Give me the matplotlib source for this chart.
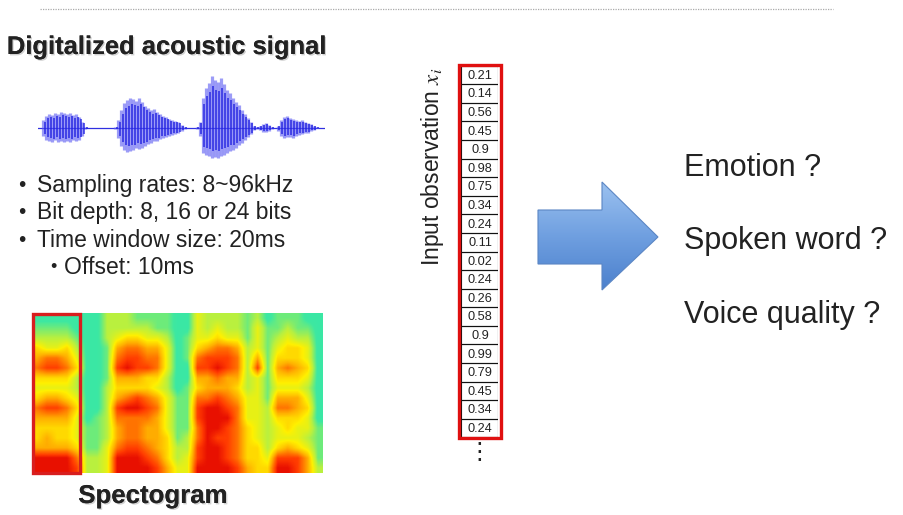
import numpy as np
import matplotlib
matplotlib.use("Agg")
import matplotlib.pyplot as plt
from matplotlib.colors import LinearSegmentedColormap
from matplotlib.patches import Rectangle, Polygon
import matplotlib.patheffects as pe

plt.rcParams['font.family'] = ['Liberation Sans', 'DejaVu Sans']
plt.rcParams['mathtext.fontset'] = 'stix'

W, H = 904, 515
TXT = '#222222'

# ---- data ----
bullets = ['Sampling rates: 8~96kHz', 'Bit depth: 8, 16 or 24 bits', 'Time window size: 20ms']
sub_bullet = 'Offset: 10ms'
questions = ['Emotion ?', 'Spoken word ?', 'Voice quality ?']

# waveform envelope (upper / lower amplitude per sample)
wave_top = [0, 8, 12, 14, 13, 15, 14, 16, 15, 14, 15, 13, 14, 11, 6, 1,
            0, 0, 0, 0, 0, 0, 0, 0, 0, 1,
            8, 18, 25, 28, 30, 29, 27, 30, 26, 22, 20, 18, 19, 16, 14, 12, 11, 9, 8, 7, 6, 3, 1,
            0, 0, 0, 1,
            6, 30, 40, 45, 52, 48, 46, 50, 44, 38, 35, 30, 26, 23, 18, 14, 10, 6, 2,
            1, 2, 4, 5, 3, 1, 0,
            2, 8, 11, 12, 10, 9, 8, 7, 8, 6, 5, 4, 2, 1, 0, 0]
wave_bot = [0, 8, 12, 13, 14, 12, 14, 13, 14, 13, 14, 12, 13, 12, 8, 1,
            0, 0, 0, 0, 0, 0, 0, 0, 0, 1,
            10, 18, 22, 24, 23, 22, 20, 21, 20, 18, 16, 15, 13, 13, 11, 10, 9, 8, 7, 6, 5, 3, 1,
            0, 0, 0, 1,
            8, 25, 27, 28, 30, 29, 30, 28, 27, 25, 23, 22, 20, 17, 15, 12, 9, 6, 2,
            1, 2, 4, 4, 3, 1, 0,
            3, 8, 10, 9, 9, 10, 8, 7, 6, 5, 5, 3, 2, 0, 0, 0]

# spectrogram intensity (0 = quiet, 9 = loud), rows = high -> low frequency
spec_rows = [
    "11111113332222114333323122211",
    "22221113333322114343324223221",
    "33332113455443124454424234331",
    "54453112677664125677634245541",
    "67764112788774127888736255541",
    "78875112898874118898738267651",
    "55553112666553116676634255541",
    "44443113555543125666534244431",
    "56654113678764227787644266641",
    "78875113899874228998744377651",
    "66664123777764228999744355541",
    "55554223677664227998754345442",
    "56554223677665237988754344432",
    "66665224788765338998755356542",
    "99997334999875348998755488862",
    "99998334999986449999865599863",
]

obs_values = [0.21, 0.14, 0.56, 0.45, 0.9, 0.98, 0.75, 0.34, 0.24, 0.11,
              0.02, 0.24, 0.26, 0.58, 0.9, 0.99, 0.79, 0.45, 0.34, 0.24]

fig = plt.figure(figsize=(W / 100, H / 100), dpi=100)


def px_axes(x0, y0, x1, y1):
    ax = fig.add_axes([x0 / W, 1 - y1 / H, (x1 - x0) / W, (y1 - y0) / H])
    ax.set_axis_off()
    return ax


# overlay for the slide texts
base = px_axes(0, 0, W, H)
base.set_xlim(0, W)
base.set_ylim(H, 0)

base.plot([40, 833], [9, 9], color='#aaaaaa', lw=0.9, ls=(0, (1, 1)))

shadow = [pe.withSimplePatchShadow(offset=(1.0, -1.0), shadow_rgbFace='#999999', alpha=0.45), pe.Normal()]
base.text(166, 54, 'Digitalized acoustic signal', fontsize=18.4, fontweight='bold',
          color=TXT, ha='center', va='baseline', path_effects=shadow)
base.text(153, 503, 'Spectogram', fontsize=18.6, fontweight='bold',
          color=TXT, ha='center', va='baseline', path_effects=shadow)

for k, line in enumerate(bullets):
    yb = 192 + 27.5 * k
    base.text(21.5, yb - 6.5, '•', fontsize=15, color=TXT, ha='center', va='center')
    base.text(37, yb, line, fontsize=16.5, color=TXT, va='baseline')
base.text(53.5, 267.5, '•', fontsize=13, color=TXT, ha='center', va='center')
base.text(64, 274, sub_bullet, fontsize=16.5, color=TXT, va='baseline')

for k, q in enumerate(questions):
    base.text(684, 176 + 73.5 * k, q, fontsize=22, color=TXT, va='baseline')

base.text(433, 167, 'Input observation $x_i$', fontsize=16.5, color=TXT,
          rotation=90, ha='center', va='center')
base.text(479, 452, '⋮', fontsize=17, color=TXT, ha='center', va='center',
          family=['DejaVu Sans'])

# waveform
wav = px_axes(38, 73, 325, 183)
idx = np.arange(len(wave_top))
wav.set_xlim(-0.7, len(wave_top) - 0.3)
wav.set_ylim(-55, 55)
wav.axhline(0, color='#3030e0', lw=0.9)
wav.vlines(idx, -np.array(wave_bot), np.array(wave_top), color='#5a5af2', lw=2.3, alpha=0.6)
wav.vlines(idx + 0.5, -0.75 * np.array(wave_bot), 0.8 * np.array(wave_top),
           color='#2020e0', lw=1.1, alpha=0.9)

# spectrogram
spec = np.array([[int(c) for c in row] for row in spec_rows], dtype=float)
cmap = LinearSegmentedColormap.from_list('spec', [
    (0.0, '#30e6b0'), (0.15, '#3fe8a0'), (0.33, '#b8f040'), (0.5, '#fff000'),
    (0.66, '#ffb000'), (0.8, '#ff6a00'), (0.9, '#ff3a00'), (1.0, '#e81000')])
sp = px_axes(32, 313, 323, 473)
sp.imshow(spec, cmap=cmap, vmin=0, vmax=9, aspect='auto', interpolation='bilinear')
sp.add_patch(Rectangle((-0.45, -0.45), 4.7, 15.9, fill=False, ec='#d81e1e', lw=2.4,
                       clip_on=False))

# observation column
col = px_axes(461.5, 65.7, 498.5, 437.3)
col.set_xlim(0, 1)
col.set_ylim(len(obs_values), 0)
for i, v in enumerate(obs_values):
    col.add_patch(Rectangle((0, i), 1, 1, fill=False, ec='#111111', lw=0.8))
    col.text(0.5, i + 0.55, str(v), fontsize=9.2, color=TXT, ha='center', va='center')
col.add_patch(Rectangle((-0.06, -0.02), 1.12, len(obs_values) + 0.04, fill=False,
                        ec='#e01010', lw=2.4, clip_on=False))

# big arrow with a vertical gradient
arr = px_axes(536, 180, 660, 293)
arr.set_xlim(0, 124)
arr.set_ylim(113, 0)
outline = [(2, 30), (66, 30), (66, 2), (122, 57), (66, 110), (66, 84), (2, 84)]
grad = np.linspace(0, 1, 100).reshape(-1, 1)
gcmap = LinearSegmentedColormap.from_list('arrow', ['#9cc2f0', '#6f9fe0', '#4a7fcc'])
im = arr.imshow(grad, cmap=gcmap, extent=(0, 124, 113, 0), aspect='auto')
poly = Polygon(outline, closed=True, fc='none', ec='#5b86c4', lw=0.8)
arr.add_patch(poly)
im.set_clip_path(poly)

fig.savefig('out.png', dpi=100)
